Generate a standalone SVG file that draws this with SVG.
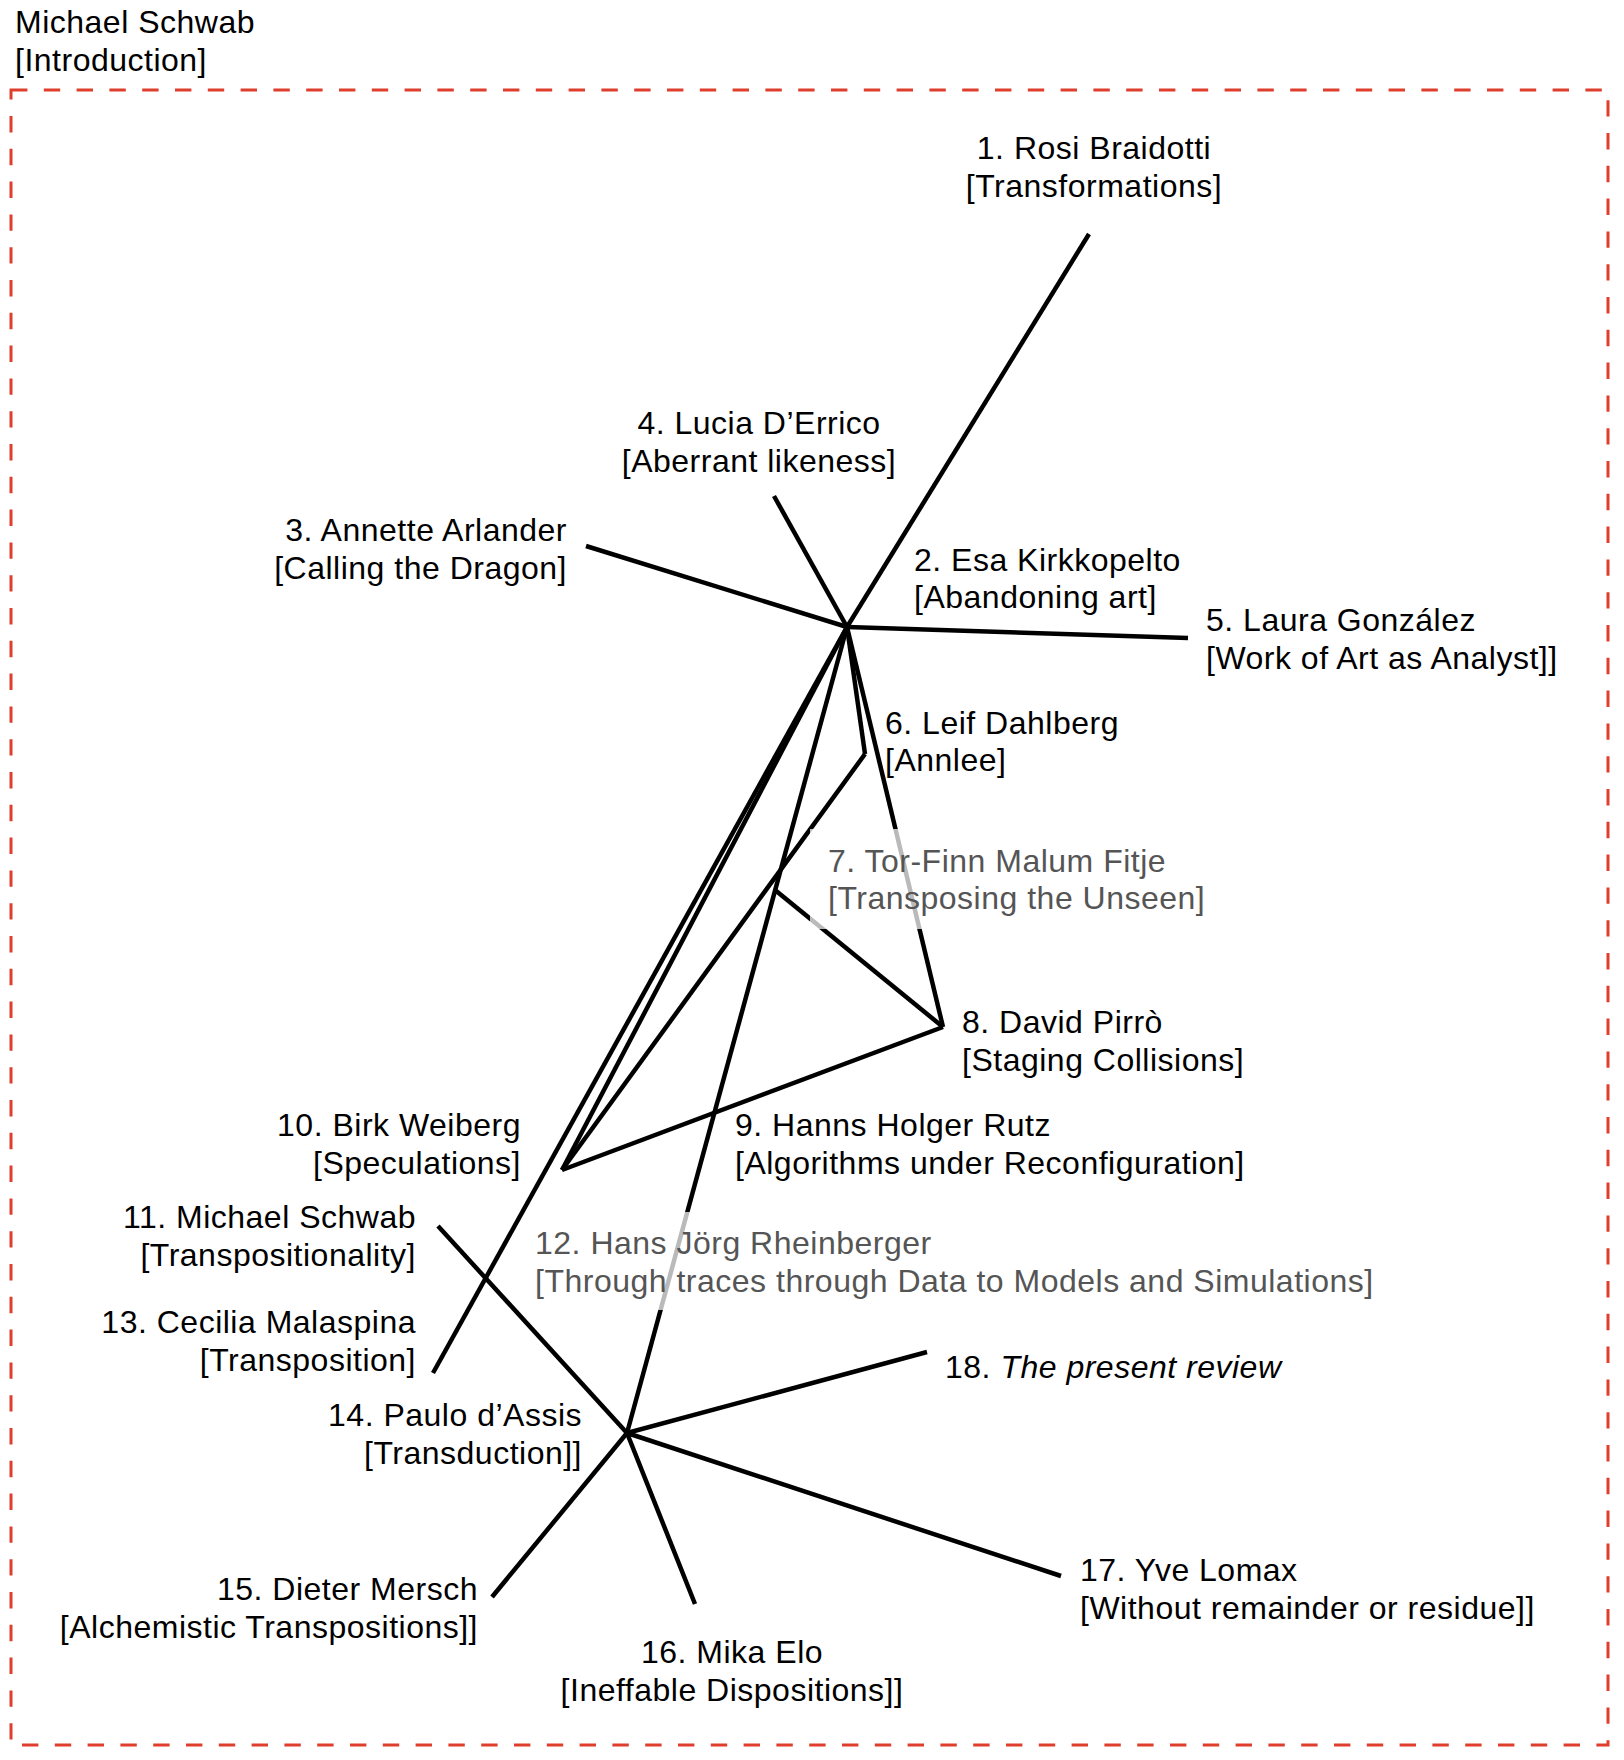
<svg xmlns="http://www.w3.org/2000/svg" width="1624" height="1760" viewBox="0 0 1624 1760">
<style>
text{font-family:"Liberation Sans",Arial,sans-serif;font-size:32px;letter-spacing:0.5px;fill:#000}
.mid{text-anchor:middle}
.end{text-anchor:end}
.dim text{fill:#555}
.veil{fill:#fff;fill-opacity:0.73}
.ln{stroke:#000;stroke-width:4.5;fill:none}
.frame{fill:none;stroke:#e03e2d;stroke-width:3;stroke-dasharray:16.4 16.4}
</style>
<rect width="1624" height="1760" fill="#fff"/>
<rect class="frame" x="11" y="90" width="1597" height="1655"/>
<g id="intro"><text x="15" y="33">Michael Schwab</text><text x="15" y="71">[Introduction]</text></g>
<g id="connectors" class="ln">
<line x1="847" y1="627" x2="1089" y2="234"/>
<line x1="847" y1="627" x2="586" y2="546"/>
<line x1="847" y1="627" x2="774" y2="496"/>
<line x1="847" y1="627" x2="1188" y2="638"/>
<line x1="847" y1="627" x2="865" y2="754"/>
<line x1="847" y1="627" x2="943" y2="1027"/>
<line x1="847" y1="627" x2="562" y2="1170"/>
<line x1="847" y1="627" x2="433" y2="1373"/>
<line x1="847" y1="627" x2="627" y2="1433"/>
<line x1="865" y1="754" x2="562" y2="1170"/>
<line x1="775" y1="890" x2="943" y2="1027"/>
<line x1="943" y1="1027" x2="562" y2="1170"/>
<line x1="438" y1="1226" x2="627" y2="1433"/>
<line x1="627" y1="1433" x2="927" y2="1352"/>
<line x1="627" y1="1433" x2="1061" y2="1576"/>
<line x1="627" y1="1433" x2="492" y2="1597"/>
<line x1="627" y1="1433" x2="695" y2="1604"/>
</g>
<g id="n1"><text class="mid" x="1094" y="159">1. Rosi Braidotti</text><text class="mid" x="1094" y="197">[Transformations]</text></g>
<g id="n2"><text x="914" y="571">2. Esa Kirkkopelto</text><text x="914" y="608">[Abandoning art]</text></g>
<g id="n3"><text class="end" x="567" y="541">3. Annette Arlander</text><text class="end" x="567" y="579">[Calling the Dragon]</text></g>
<g id="n4"><text class="mid" x="759" y="434">4. Lucia D’Errico</text><text class="mid" x="759" y="472">[Aberrant likeness]</text></g>
<g id="n5"><text x="1206" y="631">5. Laura González</text><text x="1206" y="669">[Work of Art as Analyst]]</text></g>
<g id="n6"><text x="885" y="734">6. Leif Dahlberg</text><text x="885" y="771">[Annlee]</text></g>
<g id="n7" class="dim"><rect class="veil" x="810" y="829" width="400" height="100"/><text x="828" y="872">7. Tor-Finn Malum Fitje</text><text x="828" y="909">[Transposing the Unseen]</text></g>
<g id="n8"><text x="962" y="1033">8. David Pirrò</text><text x="962" y="1071">[Staging Collisions]</text></g>
<g id="n9"><text x="735" y="1136">9. Hanns Holger Rutz</text><text x="735" y="1174">[Algorithms under Reconfiguration]</text></g>
<g id="n10"><text class="end" x="521" y="1136">10. Birk Weiberg</text><text class="end" x="521" y="1174">[Speculations]</text></g>
<g id="n11"><text class="end" x="416" y="1228">11. Michael Schwab</text><text class="end" x="416" y="1266">[Transpositionality]</text></g>
<g id="n12" class="dim"><rect class="veil" x="530" y="1212" width="870" height="98"/><text x="535" y="1254">12. Hans Jörg Rheinberger</text><text x="535" y="1292">[Through traces through Data to Models and Simulations]</text></g>
<g id="n13"><text class="end" x="416" y="1333">13. Cecilia Malaspina</text><text class="end" x="416" y="1371">[Transposition]</text></g>
<g id="n14"><text class="end" x="582" y="1426">14. Paulo d’Assis</text><text class="end" x="582" y="1464">[Transduction]]</text></g>
<g id="n15"><text class="end" x="478" y="1600">15. Dieter Mersch</text><text class="end" x="478" y="1638">[Alchemistic Transpositions]]</text></g>
<g id="n16"><text class="mid" x="732" y="1663">16. Mika Elo</text><text class="mid" x="732" y="1701">[Ineffable Dispositions]]</text></g>
<g id="n17"><text x="1080" y="1581">17. Yve Lomax</text><text x="1080" y="1619">[Without remainder or residue]]</text></g>
<g id="n18"><text x="945" y="1378">18. <tspan font-style="italic">The present review</tspan></text></g>
</svg>
